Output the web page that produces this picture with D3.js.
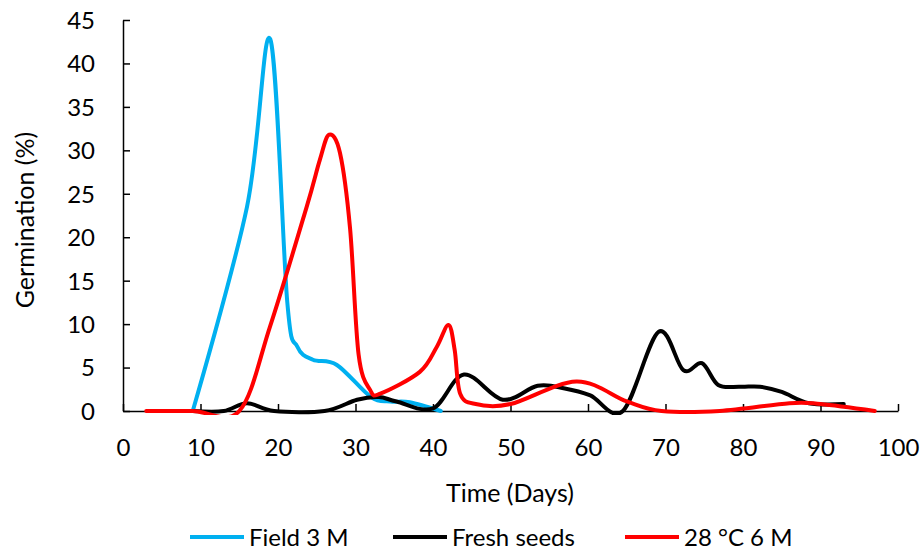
<!DOCTYPE html>
<html><head><meta charset="utf-8">
<script src="https://cdn.jsdelivr.net/npm/d3@7"></script>
<style>html,body{margin:0;padding:0;background:#fff;} svg{display:block;font-family:Lato,"Open Sans",sans-serif;}</style>
</head><body>
<svg id="c" width="924" height="554"></svg>
<script>
const xTicks = [0,10,20,30,40,50,60,70,80,90,100];
const yTicks = [0,5,10,15,20,25,30,35,40,45];
const seriesNames = ["Field 3 M","Fresh seeds","28 °C 6 M"];
const seriesColors = ["#00B0F0","#000000","#FF0000"];

const fieldDays = [9, 16, 19, 21.2, 22.5, 24.5, 27.6, 32, 34.5, 37, 41];
const fieldVals = [0, 23.5, 42.8, 12.5, 7.4, 5.9, 5.3, 1.6, 1.1, 1.0, 0];

const freshDays = [9, 13, 16, 19.5, 26, 30.2, 33, 35.3, 40, 44, 49, 53.5, 57, 60.3, 64.5, 69.1, 72.3, 74.7, 76.8, 79.6, 82.2, 85, 88.5, 93];
const freshVals = [0, 0, 0.9, 0, 0, 1.3, 1.6, 1.1, 0.3, 4.2, 1.3, 2.9, 2.6, 1.8, 0, 9.1, 4.7, 5.5, 3.0, 2.8, 2.8, 2.2, 0.9, 0.8];

const hotDays = [3, 9, 15, 19, 23.7, 25.4, 26.6, 28, 29.3, 30.4, 31.9, 33.2, 38.3, 40.5, 42, 42.8, 43.5, 45.5, 50, 58.5, 65, 69.5, 77, 86, 90, 97];
const hotVals = [0, 0, 0, 9.8, 23.5, 28.9, 31.8, 29.7, 21, 6.5, 2.4, 2.0, 4.5, 7.4, 9.9, 7, 2, 0.8, 0.8, 3.4, 1.1, 0, 0, 0.9, 0.8, 0];

const seriesDays = [fieldDays, freshDays, hotDays];
const seriesVals = [fieldVals, freshVals, hotVals];

const svg = d3.select("#c");
const x = d3.scaleLinear().domain([0,100]).range([123,898]);
const y = d3.scaleLinear().domain([0,45]).range([411,20]);

svg.append("defs").append("clipPath").attr("id","plot")
  .append("rect").attr("x",123).attr("y",14).attr("width",778).attr("height",401);

// axes
const xAxis = d3.axisBottom(x).tickValues(xTicks).tickSizeInner(-7).tickSizeOuter(0).tickFormat(d3.format("d"));
const yAxis = d3.axisLeft(y).tickValues(yTicks).tickSizeInner(-7).tickSizeOuter(0).tickFormat(d3.format("d"));

const gx = svg.append("g").attr("transform","translate(0,411)").call(xAxis);
const gy = svg.append("g").attr("transform","translate(123,0)").call(yAxis);
[gx,gy].forEach(g=>{
  g.select(".domain").attr("stroke","#000").attr("stroke-width",1.5);
  g.selectAll(".tick line").attr("stroke","#000").attr("stroke-width",1.5);
  g.selectAll(".tick text").attr("font-size",24).attr("fill","#000").attr("font-family","Lato");
});
gx.selectAll(".tick text").attr("y",28).attr("dy","0.71em");
gy.selectAll(".tick text").attr("x",-28).attr("dy","0.35em");

// series
const line = d3.line().x(d=>x(d[0])).y(d=>y(d[1])).curve(d3.curveCatmullRom.alpha(0));
const gp = svg.append("g").attr("clip-path","url(#plot)");
seriesNames.forEach((n,i)=>{
  const pts = seriesDays[i].map((d,j)=>[d, seriesVals[i][j]]);
  gp.append("path").attr("d",line(pts)).attr("fill","none")
    .attr("stroke",seriesColors[i]).attr("stroke-width",4).attr("stroke-linejoin","round").attr("stroke-linecap","round");
});

// titles
svg.append("text").attr("x",510).attr("y",502).attr("text-anchor","middle")
  .attr("font-size",25).attr("fill","#000").text("Time (Days)");
svg.append("text").attr("transform","translate(34,220) rotate(-90)").attr("text-anchor","middle")
  .attr("font-size",25).attr("fill","#000").text("Germination (%)");

// legend
const legX = [190, 393, 625];
const lg = svg.append("g");
seriesNames.forEach((n,i)=>{
  lg.append("line").attr("x1",legX[i]).attr("x2",legX[i]+54).attr("y1",537).attr("y2",537)
    .attr("stroke",seriesColors[i]).attr("stroke-width",4);
  lg.append("text").attr("x",legX[i]+59).attr("y",546).attr("font-size",24).attr("fill","#000").text(n);
});
</script>
</body></html>
